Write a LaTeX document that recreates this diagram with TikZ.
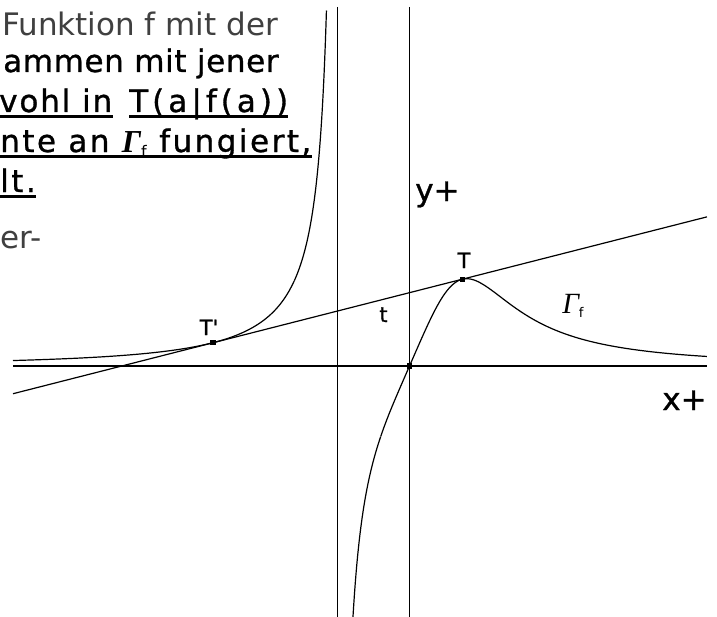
\documentclass[tikz,border=0pt]{standalone}
\usepackage{fontspec}
\newfontfamily\txtfont{DejaVu Sans}
\newfontfamily\boldtxt{DejaVu Sans}[FakeBold=1]
\newfontfamily\lblfont{DejaVu Sans}
\newfontfamily\serfont{Liberation Serif}
\newcommand\bigtxt{\txtfont\fontsize{23.25pt}{30pt}\selectfont}
\newcommand\bigbold{\boldtxt\fontsize{23.25pt}{30pt}\selectfont}
\newcommand\lsp[1]{\addfontfeature{LetterSpace=#1}}
\begin{document}
\begin{tikzpicture}[x=0.75pt,y=-0.75pt,
  axis/.style={line width=1.1pt},
  curve/.style={line width=0.9pt},
  dot/.style={rectangle,fill=black,inner sep=0pt,minimum size=4pt},
  txt/.style={anchor=base west,inner sep=0pt,font=\bigbold},
  lighttxt/.style={anchor=base west,inner sep=0pt,font=\bigtxt,text=black!75},
  ul/.style={line width=2.3pt},
  lbl/.style={anchor=base,inner sep=0pt,font=\boldtxt\fontsize{15.75pt}{16pt}\selectfont}]
\useasboundingbox (0,0) rectangle (717,617);
\fill[white] (0,0) rectangle (717,617);
% text block (cut off at the left)
\node[lighttxt] (l1) at (2,36) {Funktion f mit der};
\node[txt] (l2) at (3,72) {\lsp{2}ammen mit jener};
\node[txt] (l3a) at (-1,112) {\lsp{6}vohl in};
\node[txt] (l3b) at (129,112) {\lsp{13}T(a|f(a))};
\node[txt] (l4) at (0,152) {\lsp{8}nte an {\serfont\bfseries\itshape\fontsize{24pt}{24pt}\selectfont Γ}\raisebox{-4pt}{\lblfont\fontsize{12pt}{12pt}\selectfont f} fungiert,};
\node[txt] (l5) at (0,192) {\lsp{8}lt.};
\node[lighttxt] (l6) at (0,248) {er-};
\draw[ul] ([yshift=-3.6pt]l3a.base west) -- ([yshift=-3.6pt]l3a.base east);
\draw[ul] ([yshift=-3.6pt]l3b.base west) -- ([yshift=-3.6pt]l3b.base east);
\draw[ul] ([yshift=-3.6pt]l4.base west) -- ([yshift=-3.6pt]l4.base east);
\draw[ul] ([yshift=-3.6pt]l5.base west) -- ([yshift=-3.6pt]l5.base east);
% axes and asymptote
\coordinate (xa) at (13,366);
\coordinate (xb) at (707,366);
\coordinate (ya) at (409.5,7);
\coordinate (yb) at (409.5,617);
\coordinate (aa) at (337.5,7);
\coordinate (ab) at (337.5,617);
\draw[axis] (xa) -- (xb);
\draw[axis] (ya) -- (yb);
\draw[axis] (aa) -- (ab);
% graph of f(x)=x/(x^3+1)
\begin{scope}[shift={(409.5,366)},x=54pt,y=123.75pt]
  \draw[curve] plot[domain=-5.507:-1.6,samples=120] (\x,{\x/(\x*\x*\x+1)});
  \draw[curve] plot[domain=-1.6:-1.152,samples=250] (\x,{\x/(\x*\x*\x+1)});
  \draw[curve] plot[domain=-0.785:-0.4,samples=250] (\x,{\x/(\x*\x*\x+1)});
  \draw[curve] plot[domain=-0.4:4.132,samples=250] (\x,{\x/(\x*\x*\x+1)});
  \coordinate (tl) at (-5.507,-0.1680);
  \coordinate (tr) at (4.132,0.9039);
  \draw[curve] (tl) -- (tr);
  \node[dot] (T) at (0.732,0.5258) {};
  \node[dot] (Tp) at (-2.731,0.1410) {};
  \node[dot] (O) at (0,0) {};
\end{scope}
% labels
\node[lbl] (Tlab) at (464,268) {T};
\node[lbl] (Tplab) at (209,335) {T'};
\node[lbl] (tlab) at (383.5,322) {t};
\node[anchor=base west,inner sep=0pt] (glab) at (562,313) {{\serfont\itshape\fontsize{22pt}{22pt}\selectfont Γ}\raisebox{-3pt}{\lblfont\fontsize{10pt}{10pt}\selectfont f}};
\node[anchor=base west,inner sep=0pt,font=\bigbold] (ylab) at (415,201) {y+};
\node[anchor=base west,inner sep=0pt,font=\bigbold] (xlab) at (662,410) {x+};
\end{tikzpicture}
\end{document}
